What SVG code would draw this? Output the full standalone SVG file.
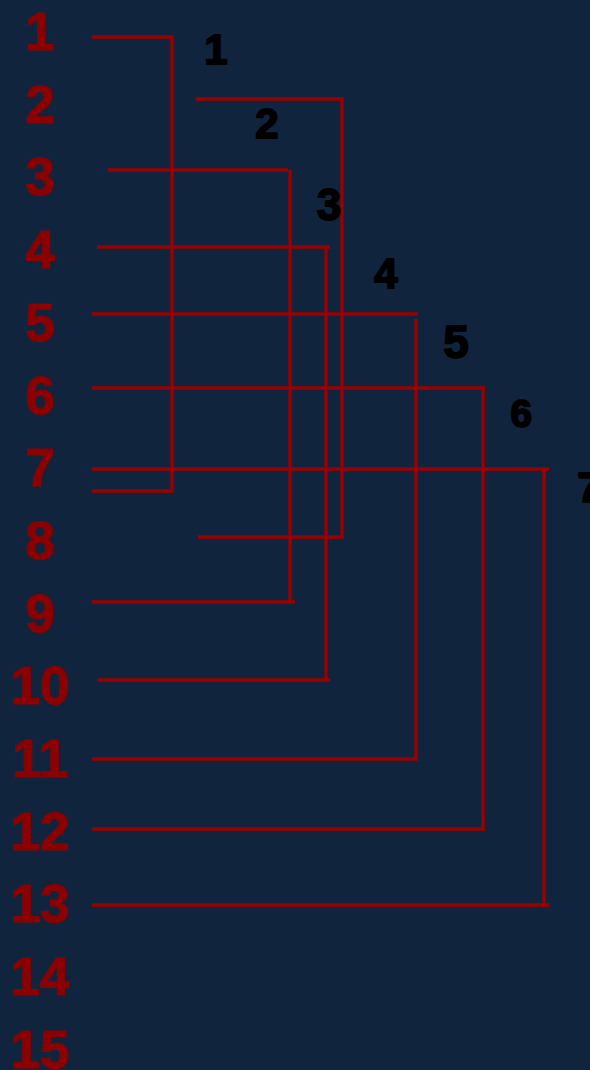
<svg xmlns="http://www.w3.org/2000/svg" width="590" height="1070" viewBox="0 0 590 1070">
<style>
.row{font-family:"Liberation Sans",Arial,sans-serif;font-weight:bold;font-size:53px;fill:#8b0000;stroke:#8b0000;stroke-width:1.2;text-anchor:middle}
.pair{font-family:"Liberation Sans",Arial,sans-serif;font-weight:bold;fill:#000;stroke:#000;stroke-width:1.8;stroke-linejoin:round;text-anchor:middle}
.ln{fill:none;stroke:#990000;stroke-width:3.4}
</style>
<rect width="590" height="1070" fill="#11243d"/>
<g id="rows">
<g id="row1"><text class="row" x="40" y="50">1</text></g>
<g id="row2"><text class="row" x="40" y="122.7">2</text></g>
<g id="row3"><text class="row" x="40" y="195.4">3</text></g>
<g id="row4"><text class="row" x="40" y="268.1">4</text></g>
<g id="row5"><text class="row" x="40" y="340.8">5</text></g>
<g id="row6"><text class="row" x="40" y="413.5">6</text></g>
<g id="row7"><text class="row" x="40" y="486.2">7</text></g>
<g id="row8"><text class="row" x="40" y="558.9">8</text></g>
<g id="row9"><text class="row" x="40" y="631.6">9</text></g>
<g id="row10"><text class="row" x="40" y="704.3">10</text></g>
<g id="row11"><text class="row" x="40" y="777">11</text></g>
<g id="row12"><text class="row" x="40" y="849.7">12</text></g>
<g id="row13"><text class="row" x="40" y="922.4">13</text></g>
<g id="row14"><text class="row" x="40" y="995.1">14</text></g>
<g id="row15"><text class="row" x="40" y="1067.8">15</text></g>
</g>
<g id="connectors">
<path class="ln" d="M92,37 H172 V491 H92"/>
<path class="ln" d="M196,99 H342 V537 H198"/>
<path class="ln" d="M108,170 H288 M290,170 V602 M92,602 H295"/>
<path class="ln" d="M97,247 H330 M326,247 V680 M97,680 H330"/>
<path class="ln" d="M92,314 H418 M416,319 V759 M92,759 H418"/>
<path class="ln" d="M92,388 H485 M483,388 V829 M92,829 H485"/>
<path class="ln" d="M92,469 H549 M544,469 V905 M92,905 H549"/>
</g>
<g id="labels">
<g id="pair1"><text class="pair" x="216" y="64" font-size="42">1</text></g>
<g id="pair2"><text class="pair" x="267" y="138" font-size="42">2</text></g>
<g id="pair3"><text class="pair" x="329" y="220" font-size="44">3</text></g>
<g id="pair4"><text class="pair" x="386" y="288" font-size="42">4</text></g>
<g id="pair5"><text class="pair" x="456" y="358" font-size="46">5</text></g>
<g id="pair6"><text class="pair" x="521" y="427" font-size="39">6</text></g>
<g id="pair7"><text class="pair" x="589" y="502" font-size="42">7</text></g>
</g>
</svg>
